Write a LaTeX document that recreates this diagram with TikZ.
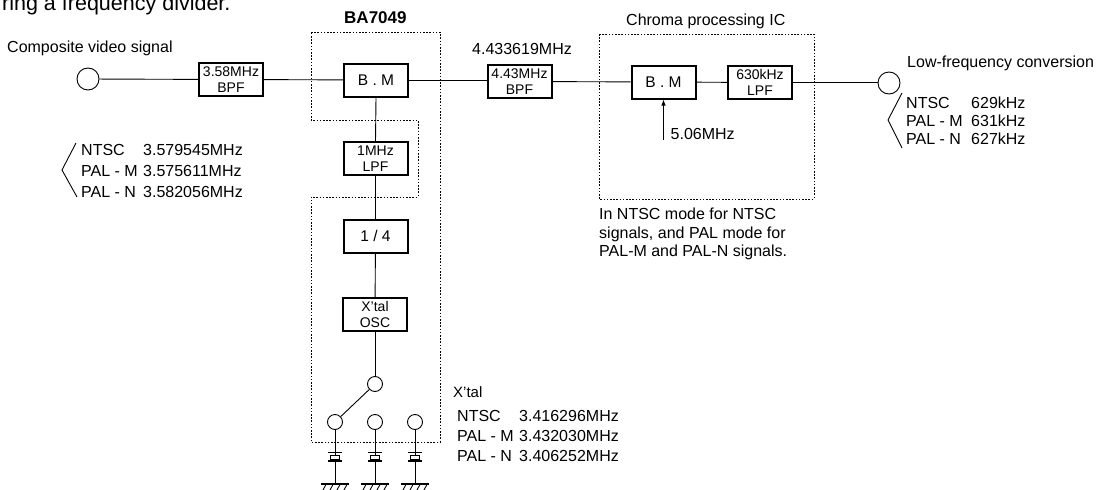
\documentclass[tikz,border=0pt]{standalone}
\usepackage{fontspec}
\usetikzlibrary{arrows.meta}
\setmainfont{Liberation Sans}
\begin{document}
\begin{tikzpicture}[x=1pt,y=-1pt,
  blk/.style={draw=black,line width=2pt,minimum width=64pt,minimum height=33pt,inner sep=0pt,align=center,font=\fontsize{14}{16}\selectfont},
  blkbig/.style={blk,font=\fontsize{15.5}{17}\selectfont},
  term/.style={draw=black,circle,line width=0.9pt,minimum size=22pt,inner sep=0pt},
  swt/.style={draw=black,circle,line width=0.9pt,minimum size=15pt,inner sep=0pt},
  wire/.style={line width=0.9pt},
  dots/.style={line width=1pt,dash pattern=on 1.6pt off 1.6pt},
  lab/.style={anchor=base west,inner sep=0pt,font=\fontsize{16}{18}\selectfont},
  xplate/.style={line width=1.2pt},
  xcase/.style={draw=black,line width=1pt,minimum width=9pt,minimum height=4pt,inner sep=0pt},
  gnd/.style={line width=1.6pt}]
\useasboundingbox (0,0) rectangle (1106,490);
% dotted outlines
\draw[dots] (311,32) -- (440,32) -- (440,442) -- (311,442) -- (311,197) -- (418,197) -- (418,120) -- (311,120) -- cycle;
\draw[dots] (599,34) rectangle (814,199);
% blocks
\node[term] (in) at (88,79) {};
\node[blk] (bpfa) at (231,79.5) {3.58MHz\\BPF};
\node[blkbig] (bma) at (376,80) {B . M};
\node[blk] (lpfa) at (375.5,158.5) {1MHz\\LPF};
\node[blkbig] (div) at (375.5,236) {1 / 4};
\node[blk] (osc) at (375,314.5) {X'tal\\OSC};
\node[blk] (bpfb) at (519.5,81.5) {4.43MHz\\BPF};
\node[blkbig] (bmb) at (663.5,82) {B . M};
\node[blk] (lpfb) at (760,82.5) {630kHz\\LPF};
\node[term] (out) at (889,83) {};
\coordinate (lo) at (663.5,140);
% switch
\node[swt] (sw) at (375,384) {};
\node[swt] (sa) at (335,422) {};
\node[swt] (sb) at (375,422) {};
\node[swt] (sc) at (415,422) {};
% crystals and grounds
\foreach \n/\x in {a/335,b/375,c/415}{
  \node[xcase] (c\n) at (\x,457) {};
  \coordinate (g\n) at (\x,484);
  \draw[wire] (s\n) -- (c\n);
  \draw[wire] (c\n) -- (g\n);
  \draw[xplate] (\x-7,452.5) -- (\x+7,452.5);
  \draw[xplate] (\x-7,461) -- (\x+7,461);
  \draw[gnd] (\x-14,484) -- (\x+14,484);
  \foreach \d in {-9,-2,5,12}{\draw[wire] (\x+\d,484.5) -- (\x+\d-3,490);}
}
% connectors
\draw[wire] (in) -- (bpfa);
\draw[wire] (bpfa) -- (bma);
\draw[wire] (bma.east) -- (bpfb.west |- bma.east);
\draw[wire] (bpfb) -- (bmb);
\draw[wire] (bmb) -- (lpfb);
\draw[wire] (lpfb.east) -- (out.west |- lpfb.east);
\draw[wire] (bma.south) -- (lpfa.north);
\draw[wire] (lpfa) -- (div);
\draw[wire] (div) -- (osc);
\draw[wire] (osc) -- (sw);
\draw[wire] (sw) -- (sa);
\draw[wire,-{Latex[length=6pt,width=4.5pt]}] (lo) -- (bmb.south);
% brackets
\draw[wire] (76,143) -- (62,170) -- (77,197);
\draw[wire] (902,93) -- (888,120) -- (902,148);
% labels
\node[lab,font=\fontsize{21.5}{24}\selectfont] (t0) at (2,10) {ring a frequency divider.};
\node[lab] (t1) at (7,52) {Composite video signal};
\node[lab,font=\bfseries\fontsize{17}{19}\selectfont] (t2) at (344,23) {BA7049};
\node[lab] (t3) at (472,54) {4.433619MHz};
\node[lab] (t4) at (626,25) {Chroma processing IC};
\node[lab] (t5) at (907,67) {Low-frequency conversion};
\node[lab] (t6) at (670.5,139) {5.06MHz};
\node[lab] (t7) at (599,219) {In NTSC mode for NTSC};
\node[lab] (t8) at (599,238) {signals, and PAL mode for};
\node[lab] (t9) at (599,256.5) {PAL-M and PAL-N signals.};
\node[lab,font=\fontsize{15}{17}\selectfont] (t10) at (453,397) {X'tal};
\foreach \y/\a/\b [count=\i] in {155/NTSC/3.579545MHz,176/PAL - M/3.575611MHz,197/PAL - N/3.582056MHz}{
  \node[lab] (la\i) at (81,\y) {\a};
  \node[lab] (lb\i) at (143,\y) {\b};
}
\foreach \y/\a/\b [count=\i] in {108.5/NTSC/629kHz,126.5/PAL - M/631kHz,144/PAL - N/627kHz}{
  \node[lab] (ra\i) at (906,\y) {\a};
  \node[lab] (rb\i) at (971,\y) {\b};
}
\foreach \y/\a/\b [count=\i] in {421/NTSC/3.416296MHz,441/PAL - M/3.432030MHz,461/PAL - N/3.406252MHz}{
  \node[lab] (xa\i) at (457,\y) {\a};
  \node[lab] (xb\i) at (519,\y) {\b};
}
\end{tikzpicture}
\end{document}
